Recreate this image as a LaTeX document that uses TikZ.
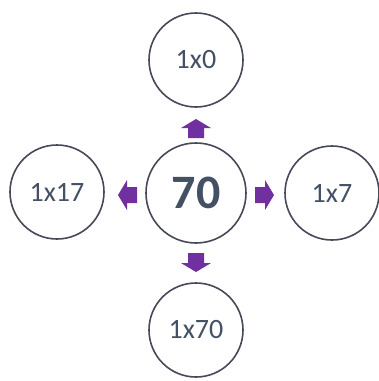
\documentclass[tikz,border=0pt]{standalone}
\usepackage{fontspec}
\setmainfont{Carlito}
\definecolor{ringgray}{RGB}{70,74,88}
\definecolor{txtgray}{RGB}{68,80,100}
\definecolor{purp}{RGB}{112,48,160}
\tikzset{
  ring/.style={circle, draw=ringgray, line width=1.6pt, fill=white,
    minimum size=94pt, inner sep=0pt, text=txtgray, font=\fontsize{28}{30}\selectfont},
  bigring/.style={ring, minimum size=100pt, font=\bfseries\fontsize{48}{50}\selectfont},
  blockarrow/.pic={
    \fill[purp] (-9,-8) -- (1,-8) -- (1,-15) -- (10,0) -- (1,15) -- (1,8) -- (-9,8) -- cycle;
  }
}
\begin{document}
\begin{tikzpicture}[x=1pt, y=-1pt]
  \useasboundingbox (0,0) rectangle (379,381);
  % Circles
  \node[bigring] (c) at (196,193) {70};
  \node[ring] (top) at (196,60) {1x0};
  \node[ring] (lft) at (57,192) {1x17};
  \node[ring] (rgt) at (332,193) {1x7};
  \node[ring] (bot) at (196,330) {1x70};
  % Block arrows pointing outwards
  \pic[rotate=90] at (196,129) {blockarrow};
  \pic[rotate=180] at (128,195) {blockarrow};
  \pic at (264,195) {blockarrow};
  \pic[rotate=270] at (196,262) {blockarrow};
\end{tikzpicture}
\end{document}
